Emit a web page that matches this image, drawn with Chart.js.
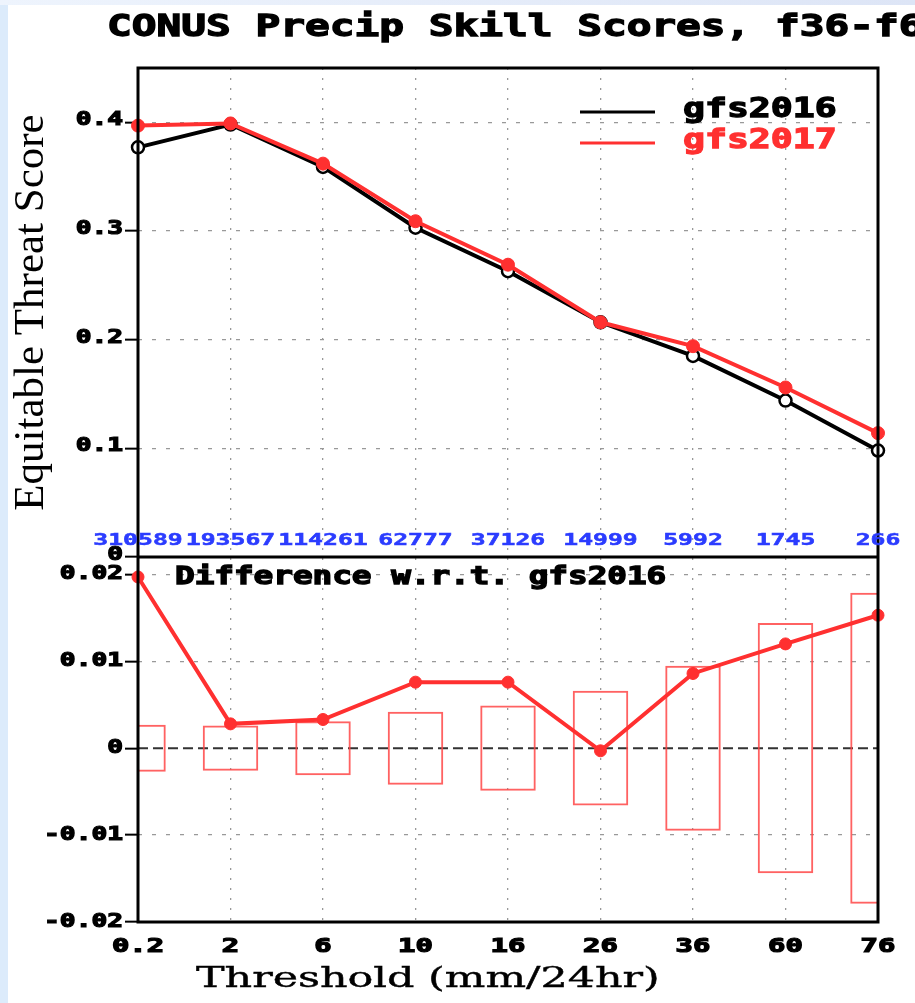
<!DOCTYPE html>
<html>
<head>
<meta charset="utf-8">
<script src="https://cdn.jsdelivr.net/npm/chart.js@4.4.1/dist/chart.umd.min.js"></script>
<style>
  html, body { margin: 0; padding: 0; }
  body { width: 915px; height: 1003px; overflow: hidden; position: relative;
         background: linear-gradient(to right, #dcebfb 0, #dcebfb 8px, #fff 8px); }
  #topstrip { position: absolute; left: 0; top: 0; width: 915px; height: 5px;
              background: linear-gradient(to right, #eef4fd, #dde5f6); }
  canvas { position: absolute; left: 0; top: 0; }
</style>
</head>
<body>
<div id="topstrip"></div>
<canvas id="myChart" width="915" height="1003"></canvas>
<script>
// thresholds (mm/24hr) and number of verifying points per threshold
var thresholds = ['0.2', '2', '6', '10', '16', '26', '36', '60', '76'];
var obsCounts = ['310589', '193567', '114261', '62777', '37126', '14999', '5992', '1745', '266'];

// equitable threat scores
var etsGfs2016 = [0.377, 0.398, 0.359, 0.303, 0.263, 0.216, 0.185, 0.144, 0.098];
var etsGfs2017 = [0.397, 0.399, 0.362, 0.309, 0.269, 0.216, 0.194, 0.156, 0.114];

// difference gfs2017 - gfs2016 and its significance half-width
var etsDiff = [0.0197, 0.0028, 0.0033, 0.0076, 0.0076, -0.0003, 0.0086, 0.0120, 0.0153];
var diffSig = [0.0027, 0.0026, 0.0031, 0.0042, 0.0049, 0.0066, 0.0095, 0.0144, 0.0179];

// axis ticks
var etsTicks = [0, 0.1, 0.2, 0.3, 0.4];
var diffTicks = [-0.02, -0.01, 0, 0.01, 0.02];

var RED = '#ff3030';
var MONO = '"DejaVu Sans Mono"';

// GrADS text is wide and heavy, so stretch it and thicken it a little
function wideText(ctx, text, x, y, font, color, sx, align, baseline, heavy) {
  ctx.save();
  ctx.font = font;
  ctx.fillStyle = color;
  ctx.strokeStyle = color;
  ctx.textAlign = 'left';
  ctx.textBaseline = baseline || 'alphabetic';
  var w = ctx.measureText(text).width * sx;
  var x0 = x;
  if (align === 'center') x0 = x - w / 2;
  if (align === 'right') x0 = x - w;
  ctx.translate(x0, y);
  ctx.scale(sx, 1);
  ctx.fillText(text, 0, 0);
  if (heavy) {
    ctx.lineWidth = heavy;
    ctx.strokeText(text, 0, 0);
  }
  ctx.restore();
}

function fmt(v) {
  if (Math.abs(v) < 1e-9) return '0';
  return String(+v.toFixed(3));
}

var gradsPlugin = {
  id: 'grads',
  beforeDatasetsDraw: function (chart) {
    var ctx = chart.ctx, a = chart.chartArea, y2 = chart.scales.y2;
    var p = y2.getPixelForValue(0);
    ctx.save();
    ctx.strokeStyle = '#333';
    ctx.lineWidth = 2;
    ctx.setLineDash([10, 5]);
    ctx.beginPath();
    ctx.moveTo(a.left, p);
    ctx.lineTo(a.right, p);
    ctx.stroke();
    ctx.restore();
  },
  afterDraw: function (chart) {
    var ctx = chart.ctx, a = chart.chartArea;
    var xs = chart.scales.x, y = chart.scales.y, y2 = chart.scales.y2;

    // frame and panel divider
    ctx.save();
    ctx.strokeStyle = '#000';
    ctx.lineWidth = 3;
    ctx.strokeRect(a.left, a.top, a.width, a.height);
    ctx.beginPath();
    ctx.moveTo(a.left, y.bottom);
    ctx.lineTo(a.right, y.bottom);
    ctx.stroke();
    ctx.restore();

    // tick labels
    y.ticks.forEach(function (t) {
      wideText(ctx, fmt(t.value), a.left - 15, y.getPixelForValue(t.value) - 2, 'bold 19px ' + MONO, '#000', 1.38, 'right', 'middle', 1.2);
    });
    y2.ticks.forEach(function (t) {
      wideText(ctx, fmt(t.value), a.left - 15, y2.getPixelForValue(t.value), 'bold 19px ' + MONO, '#000', 1.38, 'right', 'middle', 1.2);
    });
    thresholds.forEach(function (lab, i) {
      wideText(ctx, lab, xs.getPixelForValue(i), a.bottom + 30, 'bold 19px ' + MONO, '#000', 1.52, 'center', null, 1.2);
    });

    // counts per threshold
    obsCounts.forEach(function (c, i) {
      wideText(ctx, c, xs.getPixelForValue(i), y.bottom - 12, 'bold 15px ' + MONO, '#2b3cff', 1.65, 'center', null, 0.5);
    });

    // title, panel label, axis title
    wideText(ctx, 'CONUS Precip Skill Scores, f36-f60', 107, 36, 'bold 30px ' + MONO, '#000', 1.37, 'left', null, 1.3);
    wideText(ctx, 'Difference w.r.t. gfs2016', a.left + 37, y.bottom + 27, 'bold 24px ' + MONO, '#000', 1.36, 'left', null, 1.3);
    wideText(ctx, 'Threshold (mm/24hr)', 196, 987, '28px "DejaVu Serif"', '#000', 1.53, 'left', null, 0.4);

    // legend
    var items = chart.data.datasets.filter(function (d) { return d.yAxisID === 'y'; }).reverse();
    items.forEach(function (d, i) {
      var ly = a.top + 44 + i * 31;
      ctx.save();
      ctx.strokeStyle = d.borderColor;
      ctx.lineWidth = 3;
      ctx.beginPath();
      ctx.moveTo(a.left + 442, ly);
      ctx.lineTo(a.left + 517, ly);
      ctx.stroke();
      ctx.restore();
      wideText(ctx, d.label, a.left + 545, ly + 5, 'bold 27px ' + MONO, d.borderColor, 1.35, 'left', null, 1.3);
    });
  }
};

var ctx = document.getElementById('myChart').getContext('2d');
new Chart(ctx, {
  type: 'line',
  data: {
    labels: thresholds,
    datasets: [
      {
        type: 'line', label: 'gfs2017', data: etsGfs2017, yAxisID: 'y',
        borderColor: RED, backgroundColor: RED, borderWidth: 4,
        pointRadius: 6.5, pointBorderWidth: 1, pointBackgroundColor: RED, pointBorderColor: RED,
        order: 1
      },
      {
        type: 'line', label: 'gfs2016', data: etsGfs2016, yAxisID: 'y',
        borderColor: '#000', backgroundColor: '#000', borderWidth: 4,
        pointRadius: 6, pointBorderWidth: 2.5, pointBackgroundColor: '#fff', pointBorderColor: '#000',
        order: 2
      },
      {
        type: 'line', label: 'diff', data: etsDiff, yAxisID: 'y2',
        borderColor: RED, backgroundColor: RED, borderWidth: 4,
        pointRadius: 6, pointBorderWidth: 1, pointBackgroundColor: RED, pointBorderColor: RED,
        order: 3
      },
      {
        type: 'bar', label: 'sig', data: diffSig.map(function (v) { return [-v, v]; }), yAxisID: 'y2',
        backgroundColor: 'rgba(0,0,0,0)', borderColor: 'rgba(255,70,70,0.85)', borderWidth: 2,
        borderSkipped: false, barPercentage: 0.6, categoryPercentage: 1,
        order: 4
      }
    ]
  },
  options: {
    responsive: false,
    animation: false,
    layout: { padding: { top: 68, right: 37, left: 0, bottom: 0 } },
    plugins: {
      legend: { display: false },
      tooltip: { enabled: false },
      title: { display: false }
    },
    scales: {
      x: {
        type: 'category',
        offset: false,
        grid: { offset: false, color: '#999', lineWidth: 1.3, drawTicks: false },
        border: { display: false, dash: [2, 8] },
        ticks: { display: false },
        afterFit: function (s) { s.height = 81; }
      },
      y2: {
        position: 'left', stack: 'panels', stackWeight: 365,
        min: -0.02, max: 0.022,
        afterBuildTicks: function (s) { s.ticks = diffTicks.map(function (v) { return { value: v }; }); },
        grid: {
          color: function (c) { return c.tick && Math.abs(c.tick.value) < 1e-9 ? 'rgba(0,0,0,0)' : '#999'; },
          lineWidth: 1.3, tickColor: '#000', tickLength: 13, tickWidth: 2
        },
        border: { display: false, dash: [4, 10] },
        ticks: { display: false },
        afterFit: function (s) { s.width = 138; }
      },
      y: {
        position: 'left', stack: 'panels', stackWeight: 489,
        min: 0, max: 0.45,
        afterBuildTicks: function (s) { s.ticks = etsTicks.map(function (v) { return { value: v }; }); },
        grid: { color: '#999', lineWidth: 1.3, tickColor: '#000', tickLength: 13, tickWidth: 2 },
        border: { display: false, dash: [4, 10] },
        ticks: { display: false },
        title: {
          display: true, text: 'Equitable Threat Score', color: '#000',
          font: { family: 'Liberation Serif', size: 43 },
          padding: { top: 6, bottom: 0 }
        },
        afterFit: function (s) { s.width = 138; }
      }
    }
  },
  plugins: [gradsPlugin]
});
</script>
</body>
</html>
